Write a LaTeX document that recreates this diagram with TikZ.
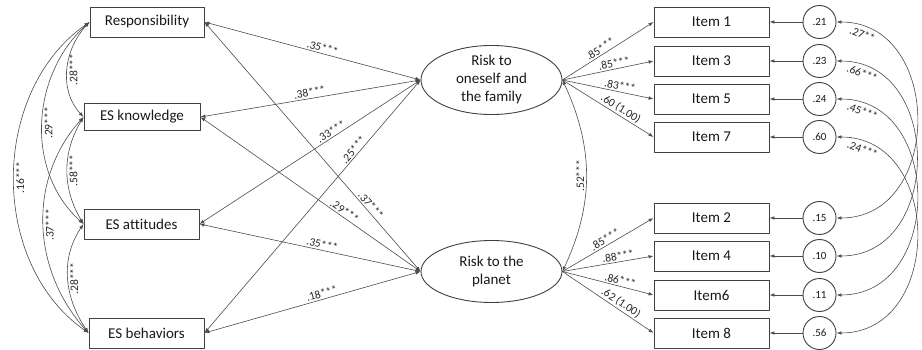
\documentclass[tikz,border=0pt]{standalone}
\usepackage{fontspec}
\setmainfont{Carlito}[Ligatures=CommonOff]
\usetikzlibrary{arrows.meta,shapes.geometric}

\tikzset{
  obs/.style={draw=black!75, line width=0.9pt, minimum width=115pt, minimum height=30pt,
    inner sep=0pt, text=black!90, font=\fontsize{15}{18}\selectfont},
  latent/.style={ellipse, draw=black!75, line width=0.9pt, minimum width=141pt, minimum height=62pt,
    inner sep=0pt, align=center, text=black!90, font=\fontsize{15}{18}\selectfont},
  err/.style={circle, draw=black!75, line width=0.9pt, minimum size=33pt, inner sep=0pt,
    text=black!90, font=\fontsize{11}{13}\selectfont},
  coef/.style={font=\fontsize{11.5}{13}\selectfont, inner sep=1.5pt, text=black!85},
  link/.style={draw=black!70, line width=0.6pt},
}

\begin{document}
\begin{tikzpicture}[x=1pt, y=1pt, line join=round, >={Latex[length=5pt,width=3.5pt]}]
    \useasboundingbox (0,0) rectangle (922,-350);

    % predictors
    \node[obs, minimum width=114pt] (resp) at (147,-22) {Responsibility};
    \node[obs, minimum width=116pt, minimum height=27pt] (know) at (142,-117) {ES knowledge};
    \node[obs] (att) at (141.5,-224) {ES attitudes};
    \node[obs] (beh) at (146.5,-333) {ES behaviors};

    % latent factors
    \node[latent] (self) at (491.5,-80) {Risk to\\oneself and\\the family};
    \node[latent] (planet) at (491.5,-271.5) {Risk to the\\planet};

    % items and their errors
    \foreach \k/\txt/\v/\y in {1/Item 1/.21/22, 3/Item 3/.23/61, 5/Item 5/.24/99, 7/Item 7/.60/137,
                               2/Item 2/.15/218, 4/Item 4/.10/256, 6/Item6/.11/295, 8/Item 8/.56/333} {
        \node[obs] (item\k) at (711.5,-\y) {\txt};
        \node[err] (e\k) at (819.5,-\y) {\v};
        \draw[link, ->] (e\k) -- (item\k);
    }

    % correlations among predictors
    \draw[link, <->] (resp.west) to[out=227, in=133] node[coef, rotate=90, anchor=north, pos=.5] {.28***} (know.west);
    \draw[link, <->] (resp.west) to[out=222, in=138] node[coef, rotate=90, anchor=north, pos=.5] {.29***} (att.west);
    \draw[link, <->] (resp.west) to[out=215, in=145] node[coef, rotate=90, anchor=north, pos=.5] {.16***} (beh.west);
    \draw[link, <->] (know.west) to[out=239, in=121] node[coef, rotate=90, anchor=north, pos=.5] {.58***} (att.west);
    \draw[link, <->] (know.west) to[out=228, in=132] node[coef, rotate=90, anchor=north, pos=.5] {.37***} (beh.west);
    \draw[link, <->] (att.west) to[out=236, in=124] node[coef, rotate=90, anchor=north, pos=.5] {.28***} (beh.west);

    % predictors with the two factors
    \draw[link, <->] (resp.east) -- node[coef, sloped, above, pos=.54] {.35***} (self.west);
    \draw[link, <->] (know.east) -- node[coef, sloped, above, pos=.5] {.38***} (self.west);
    \draw[link, <->] (att.east) -- node[coef, sloped, above, pos=.61] {.33***} (self.west);
    \draw[link, <->] (beh.east) -- node[coef, sloped, above, pos=.71] {.25***} (self.west);
    \draw[link, <->] (resp.east) -- node[coef, sloped, above, pos=.75] {.37***} (planet.west);
    \draw[link, <->] (know.east) -- node[coef, sloped, above, pos=.64] {.29***} (planet.west);
    \draw[link, <->] (att.east) -- node[coef, sloped, above, pos=.55] {.35***} (planet.west);
    \draw[link, <->] (beh.east) -- node[coef, sloped, above, pos=.55] {.18***} (planet.west);

    % factor correlation
    \draw[link, <->] (self.east) to[out=-65, in=65] node[coef, rotate=90, anchor=south, pos=.5] {.52***} (planet.east);

    % loadings
    \draw[link, ->] (self.east) -- node[coef, sloped, above, pos=.45] {.85***} (item1.west);
    \draw[link, ->] (self.east) -- node[coef, sloped, above, pos=.58] {.85***} (item3.west);
    \draw[link, ->] (self.east) -- node[coef, sloped, above, pos=.62] {.83***} (item5.west);
    \draw[link, ->] (self.east) -- node[coef, sloped, above, pos=.6] {.60 (1.00)} (item7.west);
    \draw[link, ->] (planet.east) -- node[coef, sloped, above, pos=.5] {.85***} (item2.west);
    \draw[link, ->] (planet.east) -- node[coef, sloped, above, pos=.62] {.88***} (item4.west);
    \draw[link, ->] (planet.east) -- node[coef, sloped, above, pos=.62] {.86***} (item6.west);
    \draw[link, ->] (planet.east) -- node[coef, sloped, above, pos=.6] {.62 (1.00)} (item8.west);

    % error covariances
    \draw[link, <->] (e1.east) to[out=0, in=0, looseness=1.4] node[coef, sloped, below, pos=.1, inner sep=3pt] {.27**} (e2.east);
    \draw[link, <->] (e3.east) to[out=0, in=0, looseness=1.4] node[coef, sloped, below, pos=.1, inner sep=3pt] {.66***} (e4.east);
    \draw[link, <->] (e5.east) to[out=0, in=0, looseness=1.4] node[coef, sloped, below, pos=.1, inner sep=3pt] {.45***} (e6.east);
    \draw[link, <->] (e7.east) to[out=0, in=0, looseness=1.4] node[coef, sloped, below, pos=.1, inner sep=3pt] {.24***} (e8.east);
\end{tikzpicture}
\end{document}
